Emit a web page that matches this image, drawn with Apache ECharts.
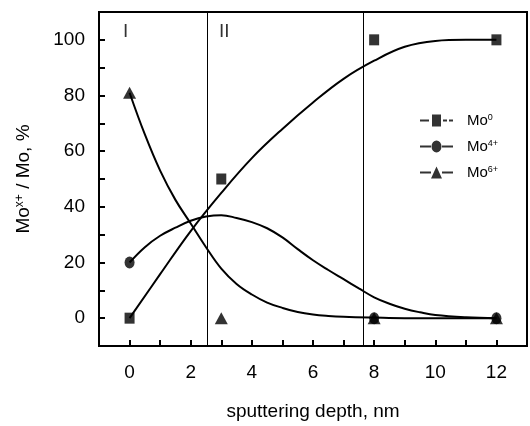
<!DOCTYPE html>
<html>
<head>
<meta charset="utf-8">
<script src="https://cdn.jsdelivr.net/npm/echarts@6/dist/echarts.min.js"></script>
<style>
  html, body { margin: 0; padding: 0; background: #fff; }
  #chart { width: 530px; height: 426px; }
</style>
</head>
<body>
<div id="chart"></div>
<script>
// measured points (markers)
var depthMo0 = [0, 3, 8, 12];
var valMo0 = [0, 50, 100, 100];
var depthMo4 = [0, 8, 12];
var valMo4 = [20, 0, 0];
var depthMo6 = [0, 3, 8, 12];
var valMo6 = [81, 0, 0, 0];

// fitted curves
var fitDepth0 = [0, 1, 2, 3, 4, 5, 6, 7, 8, 9, 10, 11, 12];
var fitVal0 = [0, 15.8, 31.3, 45, 57.5, 68, 77.5, 86, 92.5, 97.5, 99.6, 100, 100];
var fitDepth4 = [0, 0.5, 1, 1.5, 2, 2.5, 3, 3.5, 4, 4.5, 5, 5.5, 6, 6.5, 7, 7.5, 8, 8.5, 9, 9.5, 10, 11, 12];
var fitVal4 = [20, 25.5, 29.6, 32.5, 35, 36.5, 37, 36, 34.5, 32.3, 29, 24.8, 20.8, 17.3, 14, 10.7, 7.5, 5.2, 3.4, 2.1, 1.1, 0.3, 0];
var fitDepth6 = [0, 0.5, 1, 1.5, 2, 2.5, 3, 3.5, 4, 4.5, 5, 5.5, 6, 6.5, 7, 8, 9, 10, 11, 12];
var fitVal6 = [81, 66, 53, 42.5, 34, 25.5, 17.8, 12.3, 8.5, 5.6, 3.7, 2.2, 1.3, 0.8, 0.5, 0.2, 0, 0, 0, 0];

// region boundaries and labels
var regionLines = [2.55, 7.65];
var regionNames = ['I', 'II'];
var regionPos = [-0.13, 3.1];

var legendNames = ['Mo0', 'Mo4+', 'Mo6+'];
var legendSup = ['0', '4+', '6+'];

function pairs(xs, ys) {
    return xs.map(function (x, i) { return [x, ys[i]]; });
}

var iconSquare = 'path://M0,5H9V7H0Z M12,0H21V12H12Z M23,5H27V7H23Z M29,5H33V7H29Z';
var iconCircle = 'path://M0,5H11V7H0Z M11.5,6A5,6 0 1 1 21.5,6A5,6 0 1 1 11.5,6Z M22,5H33V7H22Z';
var iconTriangle = 'path://M0,5H11V7H0Z M16.5,0L22,12H11Z M22,5H33V7H22Z';

var chart = echarts.init(document.getElementById('chart'));
var font = 'Liberation Sans';

var curveStyle = { color: '#000', width: 2 };

var option = {
    animation: false,
    backgroundColor: '#fff',
    textStyle: { fontFamily: font, color: '#000' },
    grid: {
        left: 99, right: 1, top: 12, bottom: 78,
        show: true, borderColor: '#000', borderWidth: 2
    },
    legend: {
        orient: 'vertical',
        left: 415,
        top: 108,
        itemWidth: 33,
        itemHeight: 12,
        itemGap: 11,
        data: [
            { name: legendNames[0], icon: iconSquare },
            { name: legendNames[1], icon: iconCircle },
            { name: legendNames[2], icon: iconTriangle }
        ],
        formatter: function (name) {
            return '{a|Mo}{b|' + legendSup[legendNames.indexOf(name)] + '}';
        },
        textStyle: {
            padding: [0, 0, 0, 9],
            rich: {
                a: { fontFamily: font, fontSize: 15, color: '#000' },
                b: { fontFamily: font, fontSize: 9, color: '#000', verticalAlign: 'top' }
            }
        },
        itemStyle: { color: '#000' }
    },
    xAxis: {
        type: 'value',
        min: -1, max: 13, interval: 1,
        name: 'sputtering depth, nm',
        nameLocation: 'middle',
        nameGap: 56,
        nameTextStyle: { fontSize: 19, color: '#000', fontFamily: font },
        axisLine: { onZero: false, lineStyle: { color: '#000', width: 2 } },
        axisTick: { inside: true, length: 6, lineStyle: { color: '#000', width: 2 } },
        axisLabel: {
            fontSize: 19, color: '#000', margin: 17, fontFamily: font,
            formatter: function (v) { return (v >= 0 && v <= 12 && v % 2 === 0) ? String(v) : ''; }
        },
        splitLine: { show: false }
    },
    yAxis: {
        type: 'value',
        min: -10, max: 110, interval: 10,
        name: '{a|Mo}{b|x+}{a| / Mo, %}',
        nameLocation: 'middle',
        nameGap: 66,
        nameRotate: 90,
        nameTextStyle: {
            rich: {
                a: { fontSize: 19, color: '#000', fontFamily: font },
                b: { fontSize: 12, color: '#000', fontFamily: font, verticalAlign: 'top' }
            }
        },
        axisLine: { onZero: false, lineStyle: { color: '#000', width: 2 } },
        axisTick: { inside: true, length: 6, lineStyle: { color: '#000', width: 2 } },
        axisLabel: {
            fontSize: 19, color: '#000', margin: 14, fontFamily: font,
            formatter: function (v) { return (v >= 0 && v <= 100 && v % 20 === 0) ? String(v) : ''; }
        },
        splitLine: { show: false }
    },
    series: [
        {
            type: 'line', smooth: 0.4, symbol: 'none',
            data: pairs(fitDepth0, fitVal0), lineStyle: curveStyle, z: 3,
            markLine: {
                silent: true, symbol: 'none',
                label: { show: false },
                lineStyle: { color: '#000', width: 1, type: 'solid' },
                data: regionLines.map(function (x) { return { xAxis: x }; })
            }
        },
        { type: 'line', smooth: 0.4, symbol: 'none', data: pairs(fitDepth4, fitVal4), lineStyle: curveStyle, z: 3 },
        { type: 'line', smooth: 0.4, symbol: 'none', data: pairs(fitDepth6, fitVal6), lineStyle: curveStyle, z: 3 },
        {
            name: legendNames[0], type: 'scatter', symbol: 'rect', symbolSize: [10, 11],
            itemStyle: { color: '#000' }, data: pairs(depthMo0, valMo0), z: 5
        },
        {
            name: legendNames[1], type: 'scatter', symbol: 'circle', symbolSize: [10, 12],
            itemStyle: { color: '#000' }, data: pairs(depthMo4, valMo4), z: 5
        },
        {
            name: legendNames[2], type: 'scatter', symbol: 'triangle', symbolSize: [13, 12],
            itemStyle: { color: '#000' }, data: pairs(depthMo6, valMo6), z: 5
        },
        {
            type: 'scatter', symbolSize: 1, itemStyle: { color: 'transparent' }, silent: true,
            data: regionPos.map(function (x, i) { return [x, 103, regionNames[i]]; }),
            label: {
                show: true, position: 'inside', fontSize: 19, color: '#000', fontFamily: font,
                formatter: function (p) { return p.value[2]; }
            }
        }
    ]
};

option && chart.setOption(option);
</script>
</body>
</html>
